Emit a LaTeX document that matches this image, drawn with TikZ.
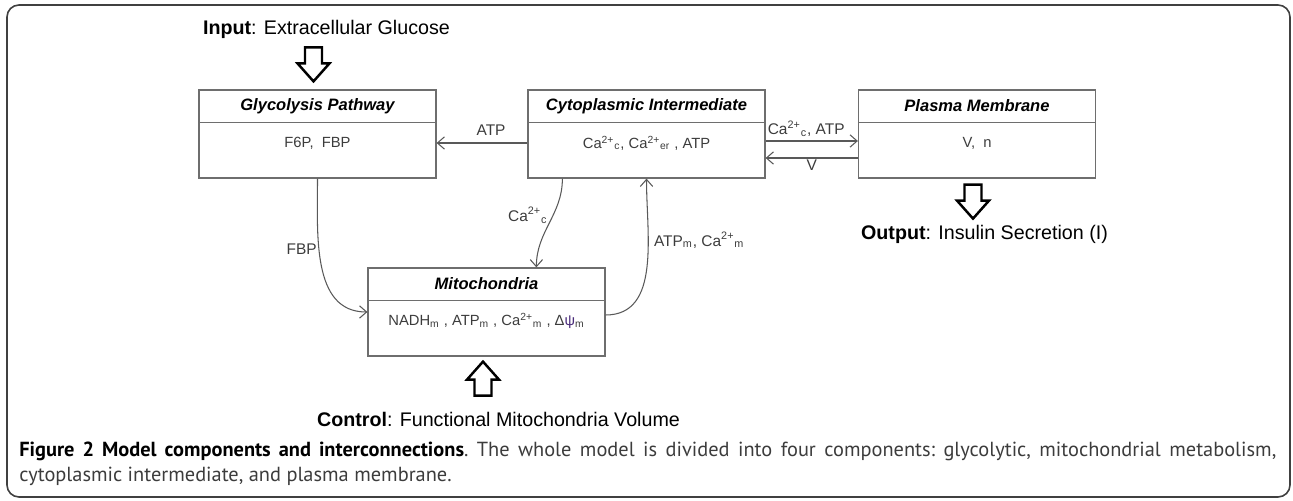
\documentclass[tikz,border=0pt]{standalone}
\usepackage{fontspec}
\setmainfont{Liberation Sans}
\newfontfamily\capfont{PT Sans}
\usetikzlibrary{arrows.meta}
\definecolor{boxgray}{HTML}{6E6E6E}
\definecolor{txtgray}{HTML}{3C3C3C}
\definecolor{psicol}{HTML}{4A2C7A}

\begin{document}
\begin{tikzpicture}[
    >={Straight Barb[length=4pt,width=7pt]},
    box/.style={draw=boxgray, line width=0.7pt, minimum width=4.74cm, minimum height=1.76cm, inner sep=0pt},
    title/.style={font=\fontsize{9.4}{11}\selectfont\bfseries\itshape},
    vals/.style={text=txtgray, font=\fontsize{8.4}{10}\selectfont},
    lbl/.style={text=txtgray, font=\fontsize{8.8}{10}\selectfont, inner sep=1pt},
    io/.style={font=\fontsize{11.2}{13}\selectfont},
    link/.style={->, draw=black!65, line width=0.6pt},
    blk/.style={draw=black, fill=white, line width=1.4pt, line join=miter}
  ]
        \useasboundingbox (0,0) rectangle (25.86,10.02);
        \draw[black!75, line width=0.9pt, rounded corners=0.24cm] (0.14,0.08) rectangle (25.8,9.92);

        % the four components
        \node[box] (gly) at (6.35,7.34) {};
        \node[box] (cyto) at (12.93,7.34) {};
        \node[box] (pm) at (19.54,7.34) {};
        \node[box] (mito) at (9.73,3.78) {};
        \foreach \b in {gly,cyto,pm,mito}
            \draw[boxgray, line width=0.7pt] ([yshift=-0.66cm]\b.north west) -- ([yshift=-0.66cm]\b.north east);

        \node[title] (glyT) at ([yshift=-0.33cm]gly.north) {Glycolysis Pathway};
        \node[title] (cytoT) at ([yshift=-0.33cm]cyto.north) {Cytoplasmic Intermediate};
        \node[title] (pmT) at ([yshift=-0.33cm]pm.north) {Plasma Membrane};
        \node[title] (mitoT) at ([yshift=-0.33cm]mito.north) {Mitochondria};

        \node[vals] (glyV) at ([yshift=-1.07cm]gly.north) {F6P,~~FBP};
        \node[vals] (cytoV) at ([yshift=-1.07cm]cyto.north) {Ca\textsuperscript{2+}\textsubscript{c}, Ca\textsuperscript{2+}\textsubscript{er} , ATP};
        \node[vals] (pmV) at ([yshift=-1.07cm]pm.north) {V,~~n};
        \node[vals] (mitoV) at ([yshift=-1.07cm]mito.north) {NADH\textsubscript{m} ,~ATP\textsubscript{m} ,~Ca\textsuperscript{2+}\textsubscript{m} ,~Δ\textcolor{psicol}{ψ}\textsubscript{m}};

        % input, output and control
        \node[io] (inp) at (6.53,9.44) {\textbf{Input}: Extracellular Glucose};
        \node[io] (outp) at (19.69,5.34) {\textbf{Output}: Insulin Secretion (I)};
        \node[io] (ctrl) at (9.97,1.64) {\textbf{Control}: Functional Mitochondria Volume};

        \draw[blk] ([xshift=-0.08cm,yshift=0.16cm]gly.north) -- ++(0.32,0.36) -- ++(-0.15,0) -- ++(0,0.32) -- ++(-0.34,0) -- ++(0,-0.32) -- ++(-0.15,0) -- cycle;
        \draw[blk] ([xshift=-0.08cm,yshift=-0.8cm]pm.south) -- ++(0.32,0.36) -- ++(-0.15,0) -- ++(0,0.32) -- ++(-0.34,0) -- ++(0,-0.32) -- ++(-0.15,0) -- cycle;
        \draw[blk] ([xshift=-0.07cm,yshift=-0.1cm]mito.south) -- ++(0.32,-0.36) -- ++(-0.15,0) -- ++(0,-0.32) -- ++(-0.34,0) -- ++(0,0.32) -- ++(-0.15,0) -- cycle;

        % exchanges
        \draw[link] ([yshift=-0.18cm]cyto.west) -- ([yshift=-0.18cm]gly.east) node[lbl, pos=0.4, above=3pt] (atpL) {ATP};
        \draw[link] ([yshift=-0.14cm]cyto.east) -- ([yshift=-0.14cm]pm.west) node[lbl, pos=0.44, above=1pt] (caL) {Ca\textsuperscript{2+}\textsubscript{c}, ATP};
        \draw[link] ([yshift=-0.48cm]pm.west) -- ([yshift=-0.48cm]cyto.east) node[lbl, midway, below] (vL) {V};
        \draw[link] (gly.south) to[out=-90, in=180] node[lbl, pos=0.4, left] (fbpL) {FBP} (mito.west);
        \draw[link] ([xshift=0.7cm]cyto.south west) to[out=-90, in=90] node[lbl, pos=0.4, left=2pt] (cacL) {Ca\textsuperscript{2+}\textsubscript{c}} ([xshift=3.38cm]mito.north west);
        \draw[link] ([yshift=-0.06cm]mito.east) to[out=0, in=-90] node[lbl, pos=0.66, right=2pt] (atpmL) {ATP\textsubscript{m}, Ca\textsuperscript{2+}\textsubscript{m}} (cyto.south);

        \node[anchor=base west, text width=25.14cm, align=justify, inner sep=0pt, text=txtgray, font=\capfont\fontsize{11.6}{14.2}\selectfont\frenchspacing] (cap) at (0.38,0.89) {\textcolor{black}{\textbf{Figure 2 Model components and interconnections}}. The whole model is divided into four components: glycolytic, mitochondrial metabolism,\linebreak cytoplasmic intermediate, and plasma membrane.};
    \end{tikzpicture}
\end{document}
